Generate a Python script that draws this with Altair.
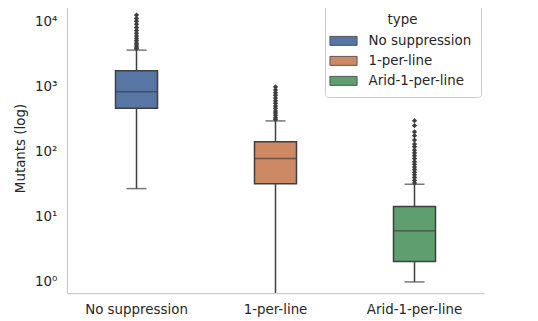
import altair as alt
import pandas as pd

categories = ["No suppression", "1-per-line", "Arid-1-per-line"]
colors = ["#5876a4", "#cc8963", "#5f9e6e"]
q1 = [460, 32, 2.05]
median = [830, 78, 6.1]
q3 = [1740, 141, 14.3]
whisker_low = [27, 0.5, 1.0]
whisker_high = [3600, 295, 31.5]
outliers_no = [3800, 4000, 4300, 4600, 5000, 5400, 5900, 6500, 7200, 8000, 9000, 10000, 11000, 12400]
outliers_1pl = [310, 330, 360, 390, 420, 460, 500, 550, 600, 660, 730, 800, 880, 980]
outliers_arid = [33, 36, 40, 44, 48, 53, 58, 64, 70, 78, 86, 95, 105, 118, 130, 150, 175, 200, 250, 297]
y_ticks = [1, 10, 100, 1000, 10000]

box_df = pd.DataFrame({
    "type": categories, "q1": q1, "median": median, "q3": q3,
    "lo": whisker_low, "hi": whisker_high,
})
out_rows = []
for cat, vals in zip(categories, [outliers_no, outliers_1pl, outliers_arid]):
    for v in vals:
        out_rows.append({"type": cat, "v": v})
out_df = pd.DataFrame(out_rows)

edge = "#3f3f3f"
yscale = alt.Scale(type="log", domain=[0.676, 19000], nice=False)
yaxis = alt.Axis(
    values=y_ticks, title="Mutants (log)", grid=False, ticks=False,
    labelExpr="'10' + ['⁰','¹','²','³','⁴'][round(log(datum.value)/LN10)]",
)
xenc = alt.X("type:N", sort=categories, scale=alt.Scale(domain=categories, paddingInner=0, paddingOuter=0),
             axis=alt.Axis(title=None, labelAngle=0, ticks=False, grid=False))

def Y(field):
    return alt.Y(field, scale=yscale, axis=yaxis)

whisk_up = alt.Chart(box_df).mark_rule(color=edge, strokeWidth=1.5, clip=True).encode(
    x=xenc, y=Y("q3:Q"), y2="hi:Q")
whisk_dn = alt.Chart(box_df).mark_rule(color=edge, strokeWidth=1.5, clip=True).encode(
    x=xenc, y=Y("lo:Q"), y2="q1:Q")
cap_hi = alt.Chart(box_df).mark_tick(color=edge, thickness=1.5, size=20, orient="horizontal").encode(
    x=xenc, y=Y("hi:Q"))
cap_lo = alt.Chart(box_df[box_df["lo"] >= 0.676]).mark_tick(color=edge, thickness=1.5, size=20, orient="horizontal").encode(
    x=xenc, y=Y("lo:Q"))
box = alt.Chart(box_df).mark_bar(size=42, stroke=edge, strokeWidth=1.5, opacity=1).encode(
    x=xenc, y=Y("q1:Q"), y2="q3:Q",
    color=alt.Color("type:N", scale=alt.Scale(domain=categories, range=colors),
                    legend=alt.Legend(title="type", orient="none", legendX=258, legendY=0,
                                      symbolType="M-1.6,-0.53H1.6V0.53H-1.6Z", symbolSize=289,
                                      symbolStrokeColor=edge, symbolStrokeWidth=0.8,
                                      symbolOpacity=1)))
med = alt.Chart(box_df).mark_tick(color=edge, thickness=1.5, size=42, orient="horizontal").encode(
    x=xenc, y=Y("median:Q"))
pts = alt.Chart(out_df).mark_point(shape="diamond", filled=True, size=28, color=edge, opacity=1).encode(
    x=xenc, y=Y("v:Q"))

chart = alt.layer(whisk_up, whisk_dn, cap_hi, cap_lo, box, med, pts).properties(
    width=417, height=290,
    autosize=alt.AutoSizeParams(type="none"),
    padding={"left": 59, "top": -5, "right": 46, "bottom": 30},
).configure_view(stroke=None).configure_axis(
    labelFont="DejaVu Sans", titleFont="DejaVu Sans", labelFontSize=13.4, titleFontSize=13.4,
    labelColor="#262626", titleColor="#262626", titleFontWeight="normal",
    domainColor="#cccccc", domainWidth=1.25, labelPadding=9,
).configure_axisY(titlePadding=7, labelPadding=10).configure_legend(
    labelFont="DejaVu Sans", titleFont="DejaVu Sans", labelFontSize=13.4, titleFontSize=13.4,
    titleFontWeight="normal", titleColor="#262626", labelColor="#262626",
    titleAnchor="middle", titleAlign="center", padding=9.5, strokeColor="#cccccc", cornerRadius=3,
    fillColor="white", labelOffset=16, rowPadding=4, titlePadding=6,
)
chart.save("out.html", embed_options={"renderer": "svg", "actions": False})
